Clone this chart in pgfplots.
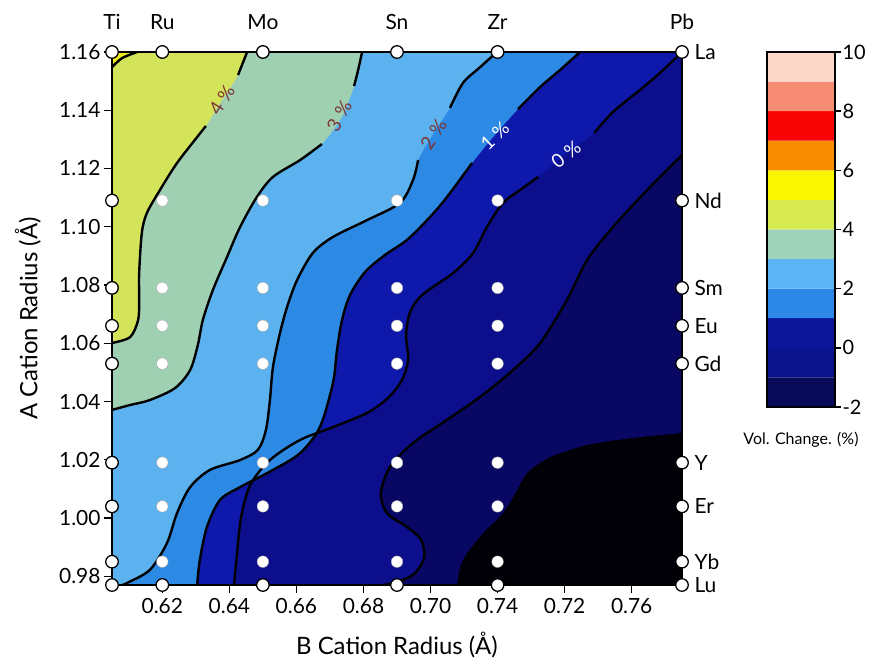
\documentclass[border=0pt]{standalone}
\usepackage{pgfplots}
\pgfplotsset{compat=1.18}
\usepackage{fontspec}
\setmainfont{Lato}
\definecolor{c5}{RGB}{238,238,30}
\definecolor{c4}{RGB}{212,228,90}
\definecolor{c3}{RGB}{160,208,178}
\definecolor{c2}{RGB}{92,178,238}
\definecolor{c1}{RGB}{45,138,228}
\definecolor{c0}{RGB}{14,24,170}
\definecolor{cm1}{RGB}{12,14,140}
\definecolor{cm2}{RGB}{8,8,100}
\definecolor{cblk}{RGB}{0,0,6}
\definecolor{lblred}{RGB}{125,55,55}
\definecolor{b10}{RGB}{250,215,200}
\definecolor{b9}{RGB}{245,140,115}
\definecolor{b8}{RGB}{250,5,5}
\definecolor{b7}{RGB}{250,140,0}
\definecolor{b6}{RGB}{250,245,0}
\definecolor{b5}{RGB}{215,235,80}
\definecolor{b4}{RGB}{160,210,185}
\definecolor{b3}{RGB}{90,180,245}
\definecolor{b2}{RGB}{45,135,230}
\definecolor{b1}{RGB}{12,22,155}
\definecolor{b0}{RGB}{10,18,140}
\definecolor{bm1}{RGB}{10,10,90}
\newcommand{\pct}[1]{#1\kern0.28em\%}
\begin{document}
\begin{tikzpicture}
\useasboundingbox (0,0) rectangle (869bp,667bp);
% ---------------- main contour axis ----------------
\begin{axis}[
  at={(112bp,82bp)}, anchor=south west, scale only axis,
  width=570bp, height=533bp,
  xmin=0.605, xmax=0.775, ymin=0.977, ymax=1.16,
  axis on top,
  axis line style={line width=2.4bp},
  xtick={0.62,0.64,0.66,0.68,0.70,0.72,0.74,0.76},
  xticklabels={0.62,0.64,0.66,0.68,0.70,0.74,0.72,0.76},
  ytick={0.98,1.00,1.02,1.04,1.06,1.08,1.10,1.12,1.14,1.16},
  yticklabels={0.98,1.00,1.02,1.04,1.06,1.08,1.10,1.12,1.14,1.16},
  xtick pos=left, ytick pos=left,
  tick align=outside,
  major tick length=8bp,
  tick style={line width=1.4bp, black},
  ticklabel style={font=\fontsize{21}{25}\selectfont},
  xticklabel style={yshift=-2bp},
  xlabel={B Cation Radius (Å)},
  ylabel={A Cation Radius (Å)},
  label style={font=\fontsize{24}{28}\selectfont},
  xlabel style={at={(axis description cs:0.5,-0.1126)}, anchor=center},
  ylabel style={at={(axis description cs:-0.1474,0.5)}, anchor=center},
]
% background (below -2)
\addplot[fill=cblk, draw=none] coordinates {(0.605,0.977) (0.775,0.977) (0.775,1.16) (0.605,1.16) (0.605,0.977)};
% >= -2
\addplot[fill=cm2, draw=none, smooth] coordinates {(0.7079,0.9770) (0.7088,0.9832) (0.7109,0.9880) (0.7157,0.9949) (0.7216,1.0017) (0.7258,1.0096) (0.7288,1.0155) (0.7356,1.0209) (0.7467,1.0251) (0.7604,1.0275) (0.7750,1.0292)} -- (0.775,1.16) -- (0.605,1.16) -- (0.605,0.977) -- cycle;
% >= -1
\addplot[fill=cm1, draw=none, smooth] coordinates {(0.6858,0.9770) (0.6900,0.9780) (0.6951,0.9808) (0.6981,0.9863) (0.6972,0.9925) (0.6930,0.9969) (0.6870,1.0017) (0.6852,1.0086) (0.6879,1.0175) (0.6948,1.0258) (0.7049,1.0337) (0.7148,1.0416) (0.7246,1.0508) (0.7327,1.0601) (0.7407,1.0749) (0.7467,1.0886) (0.7544,1.0999) (0.7646,1.1126) (0.7750,1.1246)} -- (0.775,1.16) -- (0.605,1.16) -- (0.605,0.977) -- cycle;
% >= 0
\addplot[fill=c0, draw=none, smooth] coordinates {(0.6414,0.9770) (0.6423,0.9880) (0.6435,1.0003) (0.6462,1.0113) (0.6521,1.0199) (0.6611,1.0268) (0.6709,1.0312) (0.6811,1.0361) (0.6873,1.0412) (0.6915,1.0474) (0.6933,1.0543) (0.6927,1.0628) (0.6939,1.0707) (0.6975,1.0766) (0.7067,1.0841) (0.7127,1.0910) (0.7168,1.0999) (0.7216,1.1082) (0.7267,1.1126) (0.7321,1.1171) (0.7404,1.1250) (0.7488,1.1322) (0.7544,1.1394) (0.7625,1.1470) (0.7684,1.1528) (0.7750,1.1600)} -- (0.605,1.16) -- (0.605,0.977) -- cycle;
% >= 1
\addplot[fill=c1, draw=none, smooth] coordinates {(0.6304,0.9770) (0.6312,0.9856) (0.6333,0.9969) (0.6372,1.0062) (0.6432,1.0106) (0.6530,1.0165) (0.6611,1.0223) (0.6670,1.0312) (0.6709,1.0464) (0.6721,1.0577) (0.6736,1.0680) (0.6760,1.0766) (0.6805,1.0845) (0.6864,1.0903) (0.6930,1.0955) (0.6998,1.1033) (0.7049,1.1102) (0.7124,1.1219) (0.7192,1.1315) (0.7261,1.1404) (0.7327,1.1480) (0.7386,1.1538) (0.7446,1.1600)} -- (0.605,1.16) -- (0.605,0.977) -- cycle;
% >= 2
\addplot[fill=c2, draw=none, smooth] coordinates {(0.6080,0.9770) (0.6095,0.9777) (0.6163,0.9822) (0.6214,0.9914) (0.6244,1.0017) (0.6283,1.0106) (0.6342,1.0165) (0.6432,1.0199) (0.6485,1.0234) (0.6509,1.0302) (0.6521,1.0405) (0.6530,1.0518) (0.6551,1.0635) (0.6572,1.0724) (0.6602,1.0817) (0.6649,1.0910) (0.6709,1.0965) (0.6811,1.1023) (0.6909,1.1082) (0.6948,1.1161) (0.6963,1.1229) (0.7007,1.1318) (0.7058,1.1408) (0.7097,1.1494) (0.7148,1.1548) (0.7198,1.1600)} -- (0.605,1.16) -- (0.605,0.977) -- cycle;
% >= 3
\addplot[fill=c3, draw=none, smooth] coordinates {(0.6050,1.0371) (0.6104,1.0388) (0.6163,1.0405) (0.6238,1.0446) (0.6283,1.0508) (0.6306,1.0594) (0.6321,1.0680) (0.6351,1.0783) (0.6393,1.0896) (0.6432,1.0999) (0.6482,1.1102) (0.6530,1.1171) (0.6611,1.1229) (0.6676,1.1284) (0.6736,1.1377) (0.6772,1.1483) (0.6784,1.1538) (0.6796,1.1600)} -- (0.605,1.16) -- cycle;
% >= 4
\addplot[fill=c4, draw=none, smooth] coordinates {(0.6050,1.0601) (0.6104,1.0621) (0.6128,1.0680) (0.6131,1.0749) (0.6131,1.0841) (0.6139,1.0979) (0.6154,1.1047) (0.6193,1.1126) (0.6244,1.1219) (0.6304,1.1308) (0.6330,1.1346) (0.6378,1.1435) (0.6426,1.1521) (0.6453,1.1600)} -- (0.605,1.16) -- cycle;
% >= 5
\addplot[fill=c5, draw=none] coordinates {(0.6050,1.1548) (0.6080,1.1579) (0.6125,1.1600) (0.6050,1.1600) (0.6050,1.1548)};
% ----- contour lines -----
\pgfplotsset{cline/.style={black, line width=2.4bp, smooth, no marks}}
\addplot[cline] coordinates {(0.6050,1.1548) (0.6080,1.1579) (0.6125,1.1600)};
\addplot[cline] coordinates {(0.6050,1.0601) (0.6104,1.0621) (0.6128,1.0680) (0.6131,1.0749) (0.6131,1.0841) (0.6139,1.0979) (0.6154,1.1047) (0.6193,1.1126) (0.6244,1.1219) (0.6304,1.1308) (0.6330,1.1346)};
\addplot[cline] coordinates {(0.6426,1.1521) (0.6453,1.1600)};
\addplot[cline] coordinates {(0.6050,1.0371) (0.6104,1.0388) (0.6163,1.0405) (0.6238,1.0446) (0.6283,1.0508) (0.6306,1.0594) (0.6321,1.0680) (0.6351,1.0783) (0.6393,1.0896) (0.6432,1.0999) (0.6482,1.1102) (0.6530,1.1171) (0.6611,1.1229) (0.6676,1.1284)};
\addplot[cline] coordinates {(0.6772,1.1483) (0.6784,1.1538) (0.6796,1.1600)};
\addplot[cline] coordinates {(0.6080,0.9770) (0.6095,0.9777) (0.6163,0.9822) (0.6214,0.9914) (0.6244,1.0017) (0.6283,1.0106) (0.6342,1.0165) (0.6432,1.0199) (0.6485,1.0234) (0.6509,1.0302) (0.6521,1.0405) (0.6530,1.0518) (0.6551,1.0635) (0.6572,1.0724) (0.6602,1.0817) (0.6649,1.0910) (0.6709,1.0965) (0.6811,1.1023) (0.6909,1.1082) (0.6948,1.1161) (0.6963,1.1229)};
\addplot[cline] coordinates {(0.7058,1.1408) (0.7097,1.1494) (0.7148,1.1548) (0.7198,1.1600)};
\addplot[cline] coordinates {(0.6304,0.9770) (0.6312,0.9856) (0.6333,0.9969) (0.6372,1.0062) (0.6432,1.0106) (0.6530,1.0165) (0.6611,1.0223) (0.6670,1.0312) (0.6709,1.0464) (0.6721,1.0577) (0.6736,1.0680) (0.6760,1.0766) (0.6805,1.0845) (0.6864,1.0903) (0.6930,1.0955) (0.6998,1.1033) (0.7049,1.1102) (0.7124,1.1219)};
\addplot[cline] coordinates {(0.7261,1.1404) (0.7327,1.1480) (0.7386,1.1538) (0.7446,1.1600)};
\addplot[cline] coordinates {(0.6414,0.9770) (0.6423,0.9880) (0.6435,1.0003) (0.6462,1.0113) (0.6521,1.0199) (0.6611,1.0268) (0.6709,1.0312) (0.6811,1.0361) (0.6873,1.0412) (0.6915,1.0474) (0.6933,1.0543) (0.6927,1.0628) (0.6939,1.0707) (0.6975,1.0766) (0.7067,1.0841) (0.7127,1.0910) (0.7168,1.0999) (0.7216,1.1082) (0.7267,1.1126) (0.7321,1.1171)};
\addplot[cline] coordinates {(0.7488,1.1322) (0.7544,1.1394) (0.7625,1.1470) (0.7684,1.1528) (0.7750,1.1600)};
\addplot[cline] coordinates {(0.6858,0.9770) (0.6900,0.9780) (0.6951,0.9808) (0.6981,0.9863) (0.6972,0.9925) (0.6930,0.9969) (0.6870,1.0017) (0.6852,1.0086) (0.6879,1.0175) (0.6948,1.0258) (0.7049,1.0337) (0.7148,1.0416) (0.7246,1.0508) (0.7327,1.0601) (0.7407,1.0749) (0.7467,1.0886) (0.7544,1.0999) (0.7646,1.1126) (0.7750,1.1246)};
% ----- contour labels -----
\node[rotate=58, text=lblred, font=\fontsize{19}{23}\selectfont] at (axis cs:0.6378,1.1435) {\pct{4}};
\node[rotate=60, text=lblred, font=\fontsize{19}{23}\selectfont] at (axis cs:0.6728,1.1380) {\pct{3}};
\node[rotate=57, text=lblred, font=\fontsize{19}{23}\selectfont] at (axis cs:0.7009,1.1318) {\pct{2}};
\node[rotate=44, text=white, font=\fontsize{19}{23}\selectfont] at (axis cs:0.7192,1.1312) {\pct{1}};
\node[rotate=38, text=white, font=\fontsize{19}{23}\selectfont] at (axis cs:0.7404,1.1247) {\pct{0}};
\end{axis}
% ---------------- element labels and measured points ----------------
\begin{axis}[
  at={(112bp,82bp)}, anchor=south west, scale only axis,
  width=570bp, height=533bp,
  xmin=0.605, xmax=0.775, ymin=0.977, ymax=1.16,
  clip=false,
  axis line style={draw=none},
  major tick length=0pt,
  xtick={0.605,0.62,0.65,0.69,0.72,0.775},
  xticklabels={Ti,Ru,Mo,Sn,Zr,Pb},
  xticklabel pos=right,
  ytick={1.16,1.109,1.079,1.066,1.053,1.019,1.004,0.985,0.977},
  yticklabels={La,Nd,Sm,Eu,Gd,Y,Er,Yb,Lu},
  yticklabel pos=right,
  ticklabel style={font=\fontsize{21}{25}\selectfont},
  xticklabel style={yshift=19bp},
  yticklabel style={xshift=9bp},
]
\addplot[only marks, mark=*, mark size=5.8pt, mark options={fill=white, draw=black!35, line width=0.4bp}] coordinates {
(0.62,1.109) (0.65,1.109) (0.69,1.109) (0.72,1.109)
(0.62,1.079) (0.65,1.079) (0.69,1.079) (0.72,1.079)
(0.62,1.066) (0.65,1.066) (0.69,1.066) (0.72,1.066)
(0.62,1.053) (0.65,1.053) (0.69,1.053) (0.72,1.053)
(0.62,1.019) (0.65,1.019) (0.69,1.019) (0.72,1.019)
(0.62,1.004) (0.65,1.004) (0.69,1.004) (0.72,1.004)
(0.62,0.985) (0.65,0.985) (0.69,0.985) (0.72,0.985)};
\addplot[only marks, mark=*, mark size=6.3pt, mark options={fill=white, draw=black, line width=1.3bp}] coordinates {
(0.605,1.16) (0.605,1.109) (0.605,1.079) (0.605,1.066) (0.605,1.053) (0.605,1.019) (0.605,1.004) (0.605,0.985) (0.605,0.977)
(0.775,1.16) (0.775,1.109) (0.775,1.079) (0.775,1.066) (0.775,1.053) (0.775,1.019) (0.775,1.004) (0.775,0.985) (0.775,0.977)
(0.62,1.16) (0.65,1.16) (0.69,1.16) (0.72,1.16)
(0.62,0.977) (0.65,0.977) (0.69,0.977) (0.72,0.977)};
\end{axis}
% ---------------- colour bar ----------------
\begin{axis}[
  at={(767bp,260bp)}, anchor=south west, scale only axis,
  width=68bp, height=355bp,
  xmin=0, xmax=1, ymin=-2, ymax=10,
  axis on top,
  axis line style={line width=2.4bp},
  xtick=\empty,
  ytick={-2,0,2,4,6,8,10},
  yticklabels={-2,0,2,4,6,8,10},
  ytick pos=right, yticklabel pos=right,
  tick align=outside, major tick length=6bp,
  tick style={line width=1.4bp, black},
  ticklabel style={font=\fontsize{20}{24}\selectfont},
  yticklabel style={xshift=-2bp},
  xlabel={Vol. Change. (\%)},
  xlabel style={font=\fontsize{16}{19}\selectfont, at={(axis description cs:0.5,-0.093)}, anchor=center},
]
\addplot[fill=bm1, draw=none] coordinates {(0,-2) (1,-2) (1,-1) (0,-1) (0,-2)};
\addplot[fill=b0, draw=none] coordinates {(0,-1) (1,-1) (1,0) (0,0) (0,-1)};
\addplot[fill=b1, draw=none] coordinates {(0,0) (1,0) (1,1) (0,1) (0,0)};
\addplot[fill=b2, draw=none] coordinates {(0,1) (1,1) (1,2) (0,2) (0,1)};
\addplot[fill=b3, draw=none] coordinates {(0,2) (1,2) (1,3) (0,3) (0,2)};
\addplot[fill=b4, draw=none] coordinates {(0,3) (1,3) (1,4) (0,4) (0,3)};
\addplot[fill=b5, draw=none] coordinates {(0,4) (1,4) (1,5) (0,5) (0,4)};
\addplot[fill=b6, draw=none] coordinates {(0,5) (1,5) (1,6) (0,6) (0,5)};
\addplot[fill=b7, draw=none] coordinates {(0,6) (1,6) (1,7) (0,7) (0,6)};
\addplot[fill=b8, draw=none] coordinates {(0,7) (1,7) (1,8) (0,8) (0,7)};
\addplot[fill=b9, draw=none] coordinates {(0,8) (1,8) (1,9) (0,9) (0,8)};
\addplot[fill=b10, draw=none] coordinates {(0,9) (1,9) (1,10) (0,10) (0,9)};
\end{axis}
\end{tikzpicture}
\end{document}
